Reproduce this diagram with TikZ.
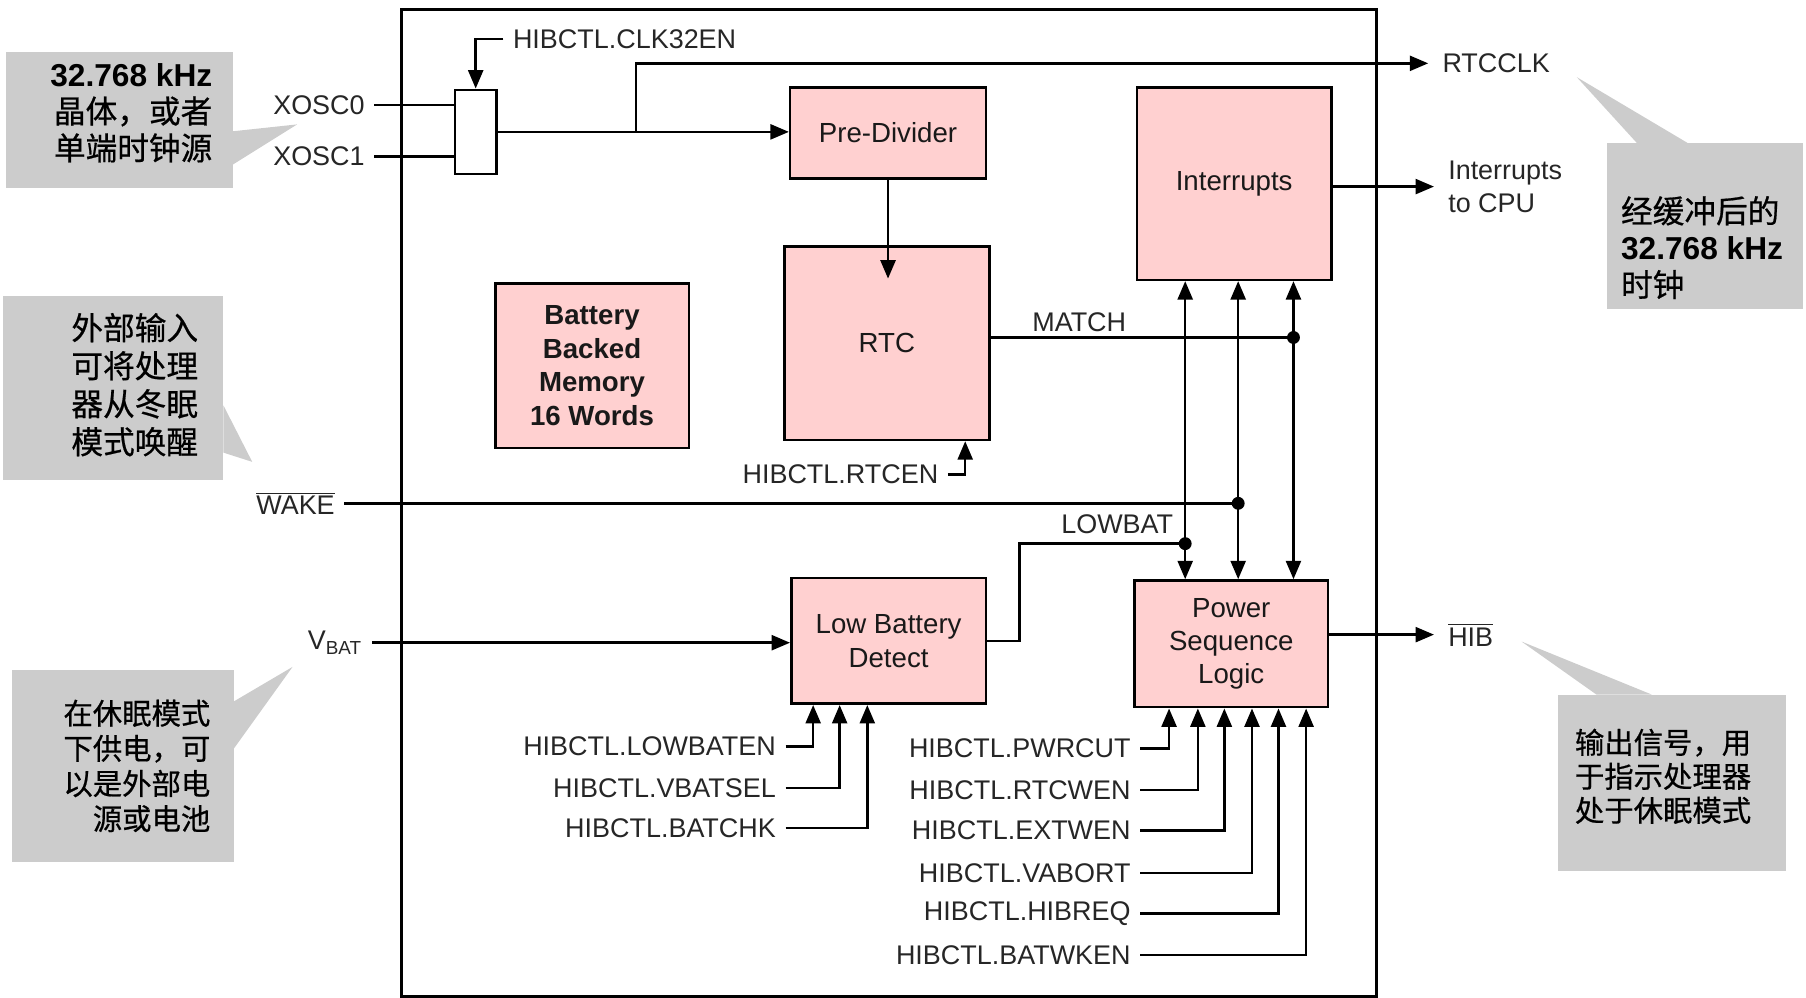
\documentclass[tikz,border=0pt]{standalone}
\usepackage{fontspec}
\setmainfont{Liberation Sans}
\newfontfamily\cjk[FakeBold=0.6]{Noto Sans CJK SC}
\usetikzlibrary{arrows.meta}

\definecolor{blockpink}{HTML}{FFD0D0}
\definecolor{notegray}{HTML}{CCCCCC}

\tikzset{
  wire/.style={line width=1.1pt},
  arr/.style={wire, -{Triangle[length=8pt,width=6.5pt]}},
  block/.style={draw, line width=1.1pt, fill=blockpink, align=center, text=black!90,
    font=\fontsize{12}{14.5}\selectfont, inner sep=0pt},
  sig/.style={font=\fontsize{11.7}{14.5}\selectfont, text=black!85, inner sep=0pt},
  inlbl/.style={sig, anchor=east, inner xsep=4pt},
  outlbl/.style={sig, anchor=west, inner xsep=6pt, align=left},
  note/.style={fill=notegray},
  notetext/.style={font=\fontsize{13.75}{16}\selectfont, inner sep=0pt}
}

\begin{document}
\begin{tikzpicture}[x=0.5pt,y=-0.5pt]
\useasboundingbox (0,0) rectangle (1568,866);

% callouts
\fill[note] (5,45) rectangle (202,163);
\fill[note] (202,114) -- (258,108) -- (202,143) -- cycle;
\node[notetext, align=right] (n-xosc) at (114,98) {{\bfseries 32.768 kHz}\\{\cjk 晶体，或者}\\{\cjk 单端时钟源}};

\fill[note] (1395,124) rectangle (1565,268);
\fill[note] (1421,124) -- (1369,67) -- (1465,124) -- cycle;
\node[notetext, align=left, anchor=west] (n-rtcclk) at (1407,215) {{\cjk 经缓冲后的}\\{\bfseries 32.768 kHz}\\{\cjk 时钟}};

\fill[note] (3,257) rectangle (194,417);
\fill[note] (194,352) -- (219,401) -- (194,393) -- cycle;
\node[notetext, align=center, font=\cjk\fontsize{13.75}{16.5}\selectfont] (n-wake) at (117,334) {外部输入\\可将处理\\器从冬眠\\模式唤醒};

\fill[note] (10,582) rectangle (203,748);
\fill[note] (203,609) -- (254,579) -- (203,650) -- cycle;
\node[notetext, anchor=east, align=right, font=\cjk\fontsize{12.75}{15.25}\selectfont] (n-vbat) at (183,665) {在休眠模式\\下供电，可\\以是外部电\\源或电池};

\fill[note] (1353,603) rectangle (1551,756);
\fill[note] (1386,603) -- (1321,557) -- (1434,603) -- cycle;
\node[notetext, anchor=west, align=left, font=\cjk\fontsize{12.75}{14.75}\selectfont] (n-hib) at (1367,674) {输出信号，用\\于指示处理器\\处于休眠模式};

% module outline
\draw[line width=1.3pt] (349,8) rectangle (1195,865);

% blocks
\node[block, minimum width=18pt, minimum height=36.5pt, fill=white] (mux) at (413,114.5) {};
\node[block, minimum width=85pt, minimum height=39.5pt] (prediv) at (771,115.5) {Pre-Divider};
\node[block, minimum width=89pt, minimum height=84pt] (rtc) at (770,298) {RTC};
\node[block, minimum width=84pt, minimum height=71.5pt, font=\fontsize{12}{14.5}\selectfont\bfseries] (bbm) at (514,317.5) {Battery\\Backed\\Memory\\16 Words};
\node[block, minimum width=84.5pt, minimum height=83.5pt] (intr) at (1071.5,159.5) {Interrupts};
\node[block, minimum width=84.5pt, minimum height=54.5pt] (lbd) at (771.5,556.5) {Low Battery\\Detect};
\node[block, minimum width=84pt, minimum height=55pt] (psl) at (1069,559) {Power\\Sequence\\Logic};

% clock inputs
\node[inlbl] (xosc0) at (325,91) {XOSC0};
\node[inlbl] (xosc1) at (325,136) {XOSC1};
\draw[wire] (xosc0.east) -- (xosc0.east -| mux.west);
\draw[wire] (xosc1.east) -- (xosc1.east -| mux.west);
\node[sig, anchor=west, inner xsep=4pt] (clk32) at (437,34) {HIBCTL.CLK32EN};
\draw[arr] (clk32.west) -| (mux.north);

% clock path
\coordinate (tap) at (552,114.5);
\draw[arr] (mux.east) -- (mux.east -| prediv.west);
\node[outlbl] (rtcclk) at (1240,55) {RTCCLK};
\draw[arr] (tap) |- (rtcclk.west);
\draw[arr] (prediv.south) -- ([yshift=-14.5pt]rtc.north -| prediv.south);
\node[inlbl] (rtcen) at (823,412) {HIBCTL.RTCEN};
\draw[arr] (rtcen.east) -| ([xshift=34pt]rtc.south);

% match / wake / lowbat bus
\coordinate (jm) at (1123,293);
\coordinate (jw) at (1075,437);
\coordinate (jl) at (1029,472);
\draw[wire] (rtc.east |- jm) -- (jm);
\node[sig] (match) at (937,280) {MATCH};
\node[inlbl] (wake) at (299,437) {$\overline{\mbox{WAKE}}$};
\draw[wire] (wake.east) -- (jw);
\draw[wire] (lbd.east) -- ++(28,0) |- (jl);
\node[sig] (lowbat) at (970,455) {LOWBAT};
\draw[arr] (jl) -- (jl |- intr.south);
\draw[arr] (jl) -- (jl |- psl.north);
\draw[arr] (jw) -- (jw |- intr.south);
\draw[arr] (jw) -- (jw |- psl.north);
\draw[arr] (jm) -- (jm |- intr.south);
\draw[arr] (jm) -- (jm |- psl.north);
\fill (jm) circle (2.8pt);
\fill (jw) circle (2.8pt);
\fill (jl) circle (2.8pt);

% outputs
\node[outlbl] (cpu) at (1245,162) {Interrupts\\to CPU};
\draw[arr] (intr.east |- cpu.west) -- (cpu.west);
\node[outlbl] (hib) at (1245,551) {$\overline{\mbox{HIB}}$};
\draw[arr] (psl.east |- hib.west) -- (hib.west);

% battery detect
\node[inlbl] (vbat) at (323,558) {V\textsubscript{BAT}};
\draw[arr] (vbat.east) -- (vbat.east -| lbd.west);
\node[inlbl] (lowbaten) at (682,648) {HIBCTL.LOWBATEN};
\node[inlbl] (vbatsel) at (682,684) {HIBCTL.VBATSEL};
\node[inlbl] (batchk) at (682,719) {HIBCTL.BATCHK};
\draw[arr] (lowbaten.east) -| (706,0 |- lbd.south);
\draw[arr] (vbatsel.east) -| (729,0 |- lbd.south);
\draw[arr] (batchk.east) -| (753,0 |- lbd.south);

% power sequence inputs
\node[inlbl] (pwrcut) at (990,650) {HIBCTL.PWRCUT};
\node[inlbl] (rtcwen) at (990,686) {HIBCTL.RTCWEN};
\node[inlbl] (extwen) at (990,721) {HIBCTL.EXTWEN};
\node[inlbl] (vabort) at (990,758) {HIBCTL.VABORT};
\node[inlbl] (hibreq) at (990,793) {HIBCTL.HIBREQ};
\node[inlbl] (batwken) at (990,829) {HIBCTL.BATWKEN};
\draw[arr] (pwrcut.east) -| (1015,0 |- psl.south);
\draw[arr] (rtcwen.east) -| (1040,0 |- psl.south);
\draw[arr] (extwen.east) -| (1063,0 |- psl.south);
\draw[arr] (vabort.east) -| (1087,0 |- psl.south);
\draw[arr] (hibreq.east) -| (1110,0 |- psl.south);
\draw[arr] (batwken.east) -| (1134,0 |- psl.south);
\end{tikzpicture}
\end{document}
